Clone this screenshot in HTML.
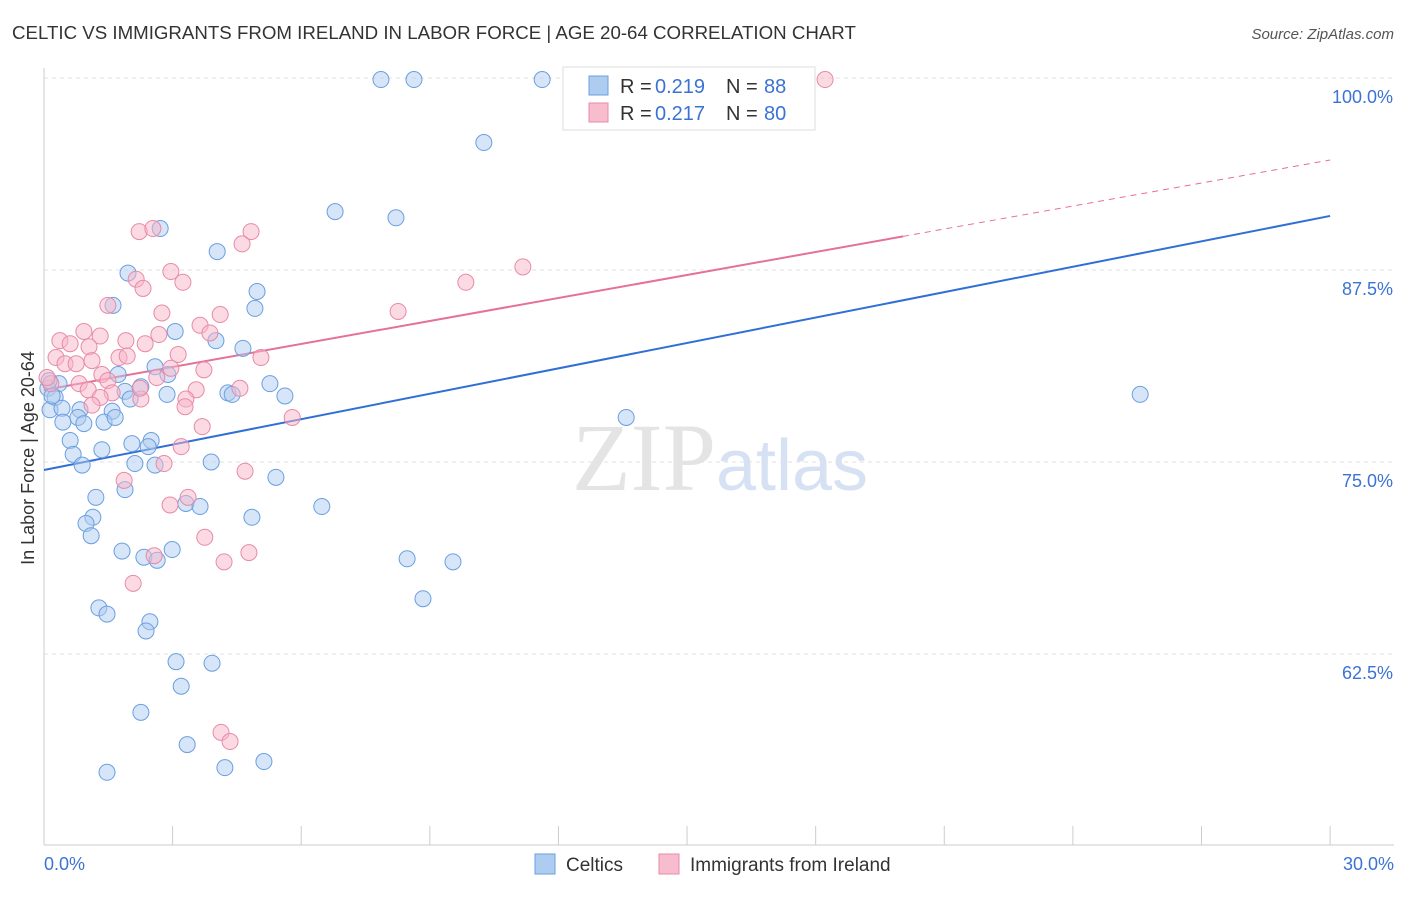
<!DOCTYPE html>
<html><head><meta charset="utf-8"><style>
body{margin:0;background:#fff;font-family:"Liberation Sans",sans-serif;}
</style></head><body>
<svg id="chart" width="1406" height="892" xmlns="http://www.w3.org/2000/svg" font-family="Liberation Sans, sans-serif">
<text x="12" y="39" font-size="18.7" fill="#333">CELTIC VS IMMIGRANTS FROM IRELAND IN LABOR FORCE | AGE 20-64 CORRELATION CHART</text>
<text x="1394" y="39" font-size="15" fill="#555" text-anchor="end" font-style="italic">Source: ZipAtlas.com</text>
<text x="720" y="490" font-size="96" text-anchor="middle" fill="#e4e4e4" font-family="Liberation Serif, serif">ZIP<tspan fill="#d6e2f3" font-family="Liberation Sans, sans-serif" font-size="72">atlas</tspan></text>
<text transform="translate(34,458) rotate(-90)" font-size="18" fill="#333" text-anchor="middle">In Labor Force | Age 20-64</text>
<g id="grid"></g><g id="axes"></g><g id="lines"></g><g id="pts"></g>
<g>
<rect x="563" y="67" width="252" height="63" fill="#fff" stroke="#ddd"/>
<rect x="589" y="76" width="19" height="19" fill="#aecbf0" stroke="#6a9fe0"/>
<text x="620" y="93" font-size="20" fill="#333">R =</text><text x="655" y="93" font-size="20" fill="#3b73d4">0.219</text>
<text x="726" y="93" font-size="20" fill="#333">N =</text><text x="764" y="93" font-size="20" fill="#3b73d4">88</text>
<rect x="589" y="103" width="19" height="19" fill="#f7bccd" stroke="#e88aa6"/>
<text x="620" y="120" font-size="20" fill="#333">R =</text><text x="655" y="120" font-size="20" fill="#3b73d4">0.217</text>
<text x="726" y="120" font-size="20" fill="#333">N =</text><text x="764" y="120" font-size="20" fill="#3b73d4">80</text>
</g>
<g>
<rect x="535" y="854" width="20" height="20" fill="#aecbf0" stroke="#6a9fe0"/>
<text x="566" y="871" font-size="19" fill="#333">Celtics</text>
<rect x="659" y="854" width="20" height="20" fill="#f7bccd" stroke="#e88aa6"/>
<text x="690" y="871" font-size="19" fill="#333">Immigrants from Ireland</text>
</g>
</svg>
<script>
const yTicks=[100,87.5,75,62.5];
const yTickLabels=["100.0%","87.5%","75.0%","62.5%"];
const xTickLabels=["0.0%","30.0%"];
const blueX=[7.86,8.63,11.62,10.26,6.79,8.21,2.71,4.04,1.96,4.97,1.61,4.92,3.06,4.01,4.64,2.59,2.89,1.73,5.27,2.26,0.35,0.09,1.89,2.87,4.29,5.62,4.39,2.01,0.26,0.14,0.42,0.84,1.59,0.79,0.44,0.93,1.40,1.66,13.58,25.57,0.61,2.05,2.50,2.43,1.35,0.68,2.12,2.59,3.90,0.89,5.41,1.89,1.21,3.31,3.64,6.48,1.14,4.85,0.98,1.10,1.82,2.99,2.33,2.64,8.47,9.54,8.84,1.28,1.47,2.47,2.38,3.08,3.92,3.20,2.26,3.34,1.47,4.22,5.13,0.12,0.19];
const blueY=[99.9,99.9,99.9,95.8,91.3,90.9,90.2,88.7,87.3,86.1,85.2,85.0,83.5,82.9,82.4,81.2,80.7,80.7,80.1,79.9,80.1,79.8,79.6,79.4,79.5,79.3,79.4,79.1,79.2,78.4,78.5,78.4,78.3,77.9,77.6,77.5,77.6,77.9,77.9,79.4,76.4,76.2,76.4,76.0,75.8,75.5,74.9,74.8,75.0,74.8,74.0,73.2,72.7,72.3,72.1,72.1,71.4,71.4,71.0,70.2,69.2,69.3,68.8,68.6,68.7,68.5,66.1,65.5,65.1,64.6,64.0,62.0,61.9,60.4,58.7,56.6,54.8,55.1,55.5,80.3,79.3];
const pinkX=[18.22,11.17,9.84,8.26,2.22,2.54,4.83,4.62,2.96,2.15,3.24,2.31,1.49,2.75,4.11,3.64,3.87,2.68,0.93,1.31,1.91,0.37,0.61,1.05,2.36,3.13,5.06,0.28,1.75,1.94,0.49,0.75,1.12,2.96,3.73,1.35,2.63,1.49,0.82,4.57,0.16,3.55,1.03,1.59,1.31,2.26,3.31,3.29,1.12,5.79,3.69,3.20,2.80,4.69,1.87,3.36,2.94,3.75,4.78,2.57,4.20,2.08,4.13,4.34,0.07,2.24];
const pinkY=[99.9,87.7,86.7,84.8,90.0,90.2,90.0,89.2,87.4,86.9,86.7,86.3,85.2,84.7,84.6,83.9,83.4,83.3,83.5,83.2,82.9,82.9,82.7,82.5,82.7,82.0,81.8,81.8,81.8,81.9,81.4,81.4,81.6,81.1,81.0,80.7,80.5,80.3,80.1,79.8,80.1,79.7,79.7,79.5,79.2,79.1,79.1,78.6,78.7,77.9,77.3,76.0,74.9,74.4,73.8,72.7,72.2,70.1,69.1,68.9,68.5,67.1,57.4,56.8,80.5,79.8];
const blueLine=[74.48,91.02];
const pinkLine=[79.69,94.66];
const pinkSolidEnd=20.04;
const NS="http://www.w3.org/2000/svg";
const X=v=>44+v*42.87, Y=v=>78+(100-v)*15.36;
function mk(t,a,p){const e=document.createElementNS(NS,t);for(const k in a)e.setAttribute(k,a[k]);document.getElementById(p).appendChild(e);return e;}
yTicks.forEach((t,i)=>{
 const g=mk('line',{x1:44,x2:1394,y1:Y(t),y2:Y(t),stroke:'#e2e2e2','stroke-dasharray':'4,4'},'grid');
 
 
 const l=mk('text',{x:1393,y:Y(t)+25,'font-size':18,fill:'#3b73d4','text-anchor':'end'},'axes');
 l.textContent=yTickLabels[i];
 
 
});
const ax=mk('line',{x1:44,x2:1394,y1:845,y2:845,stroke:'#ccc'},'axes');


const ay=mk('line',{x1:44,x2:44,y1:68,y2:845,stroke:'#ccc'},'axes');


for(let i=1;i<=10;i++){const t=mk('line',{x1:X(i*3),x2:X(i*3),y1:826,y2:845,stroke:'#ccc'},'axes');
 
 }
[[0,'start',44],[30,'end',1394]].forEach((d,i)=>{const t=mk('text',{x:d[2],y:870,'font-size':18,fill:'#3b73d4','text-anchor':d[1]},'axes');t.textContent=xTickLabels[i];
 
 });
const yb=x=>blueLine[0]+(blueLine[1]-blueLine[0])*x/30, yp=x=>pinkLine[0]+(pinkLine[1]-pinkLine[0])*x/30;
function pts(xs,ys,f,s,n){xs.forEach((x,i)=>{const c=mk('circle',{cx:X(x),cy:Y(ys[i]),r:8,fill:f,'fill-opacity':0.5,stroke:s,'stroke-width':1},'pts');
 
 });}
pts(blueX,blueY,'#aecbf0','#6a9fe0','celtics-point');
pts(pinkX,pinkY,'#f7b6c9','#e88aa6','ireland-point');
let l1=mk('line',{x1:X(0),y1:Y(yb(0)),x2:X(30),y2:Y(yb(30)),stroke:'#2f6fd6','stroke-width':2},'lines');


let l2=mk('line',{x1:X(0),y1:Y(yp(0)),x2:X(pinkSolidEnd),y2:Y(yp(pinkSolidEnd)),stroke:'#e5709a','stroke-width':2},'lines');


let l3=mk('line',{x1:X(pinkSolidEnd),y1:Y(yp(pinkSolidEnd)),x2:X(30),y2:Y(yp(30)),stroke:'#e5709a','stroke-width':1,'stroke-dasharray':'6,5'},'lines');


</script>
</body></html>
